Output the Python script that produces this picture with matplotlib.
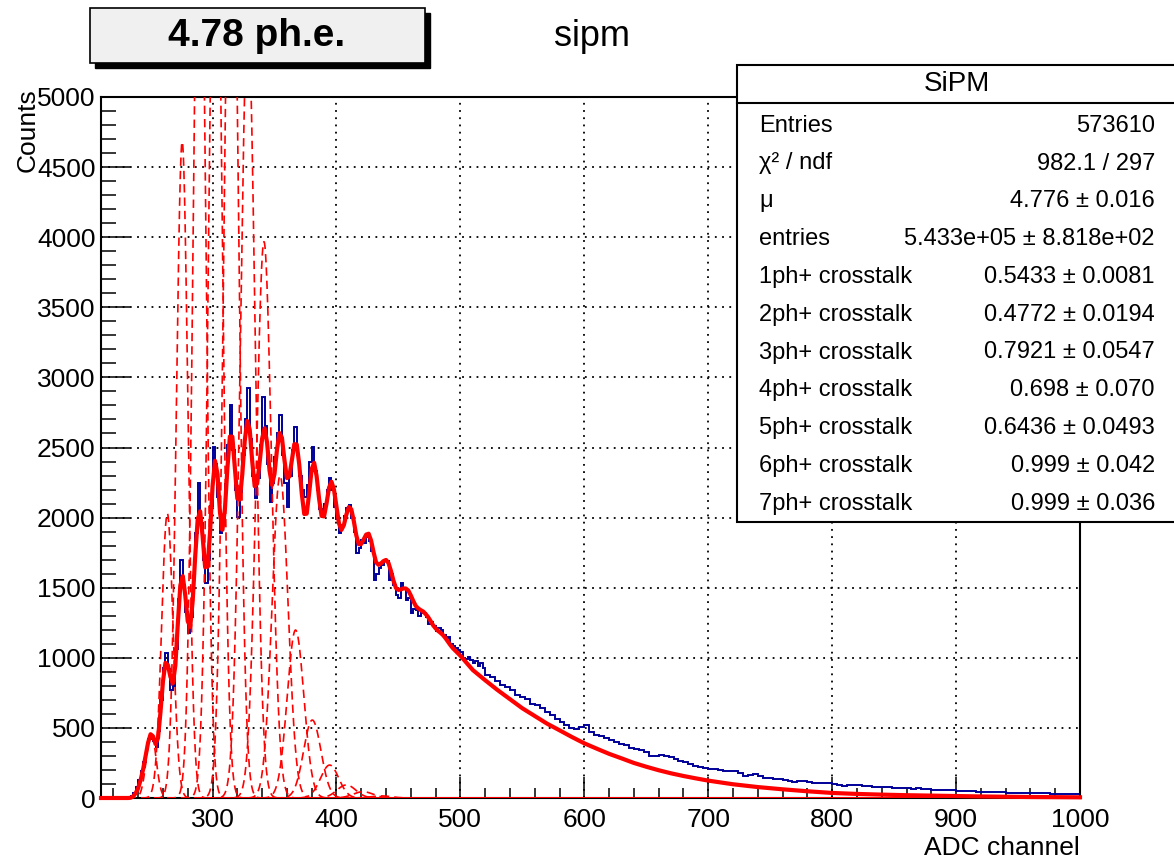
import numpy as np
import matplotlib
matplotlib.use("Agg")
import matplotlib.pyplot as plt
from matplotlib.patches import Rectangle
from matplotlib.lines import Line2D
from matplotlib.ticker import MultipleLocator

plt.rcParams['font.family'] = ['Liberation Sans', 'DejaVu Sans']

# histogram counts: 2-ADC bins from 210 to 520, then 4-ADC bins from 520 to 1000
hist_lo = [0, 0, 0, 0, 0, 0, 0, 0, 0, 0,
           2, 5, 15, 33, 75, 128, 190, 260, 350, 420,
           440, 410, 365, 480, 700, 930, 1032, 920, 770, 800,
           1060, 1420, 1698, 1520, 1330, 1180, 1290, 1580, 1890, 2245,
           1960, 1700, 1531, 1700, 2080, 2506, 2380, 2150, 1888, 1950,
           2240, 2520, 2803, 2480, 2200, 2006, 2180, 2450, 2700, 2922,
           2560, 2300, 2138, 2280, 2520, 2862, 2650, 2380, 2113, 2250,
           2430, 2600, 2732, 2450, 2250, 2078, 2300, 2480, 2648, 2450,
           2300, 2200, 2150, 2230, 2400, 2506, 2330, 2200, 2060, 2006,
           2100, 2197, 2280, 2200, 2078, 1990, 1890, 1950, 2010, 2065,
           2090, 2000, 1900, 1745, 1780, 1840, 1820, 1865, 1830, 1760,
           1555, 1600, 1640, 1662, 1700, 1690, 1555, 1600, 1520, 1450,
           1424, 1531, 1500, 1412, 1430, 1317, 1350, 1340, 1300, 1327,
           1320, 1290, 1240, 1255, 1230, 1190, 1210, 1198, 1165, 1140,
           1150, 1100, 1085, 1070, 1056, 1040, 1000, 990, 1005, 984,
           960, 975, 940, 963, 930]
hist_hi = [880, 860, 835, 805, 790, 770, 735, 720, 705, 670,
           660, 640, 610, 590, 565, 545, 520, 500, 495, 505,
           520, 470, 450, 440, 425, 415, 402, 385, 375, 360,
           350, 340, 330, 300, 298, 305, 300, 290, 275, 265,
           258, 245, 225, 222, 215, 210, 205, 200, 196, 195,
           190, 178, 158, 162, 168, 160, 142, 140, 138, 136,
           128, 120, 116, 118, 123, 114, 108, 105, 104, 105,
           100, 95, 88, 92, 90, 94, 88, 84, 82, 80,
           78, 76, 73, 72, 70, 68, 66, 69, 63, 61,
           60, 58, 57, 56, 55, 53, 52, 49, 48, 46,
           45, 43, 42, 40, 40, 39, 38, 37, 36, 35,
           35, 34, 33, 33, 32, 31, 30, 29, 28, 27]

# fit curve (solid red)
fit_lo = [0, 0, 2, 12, 35, 70, 130, 205, 300, 395,
          455, 440, 385, 427, 612, 832, 964, 948, 865, 818,
          945, 1244, 1516, 1583, 1445, 1261, 1221, 1407, 1721, 1985,
          2045, 1865, 1649, 1649, 1896, 2221, 2405, 2311, 2037, 1913,
          2061, 2352, 2578, 2577, 2357, 2136, 2128, 2307, 2548, 2689,
          2629, 2404, 2224, 2242, 2391, 2563, 2637, 2536, 2334, 2233,
          2312, 2484, 2603, 2570, 2413, 2282, 2293, 2411, 2524, 2521,
          2376, 2171, 2026, 2028, 2177, 2346, 2391, 2295, 2133, 2012,
          2009, 2101, 2213, 2256, 2199, 2077, 1960, 1912, 1947, 2022,
          2075, 2059, 1975, 1873, 1810, 1812, 1846, 1879, 1885, 1835,
          1751, 1681, 1663, 1674, 1690, 1698, 1676, 1619, 1550, 1498,
          1484, 1488, 1495, 1494, 1480, 1445, 1405, 1370, 1352, 1340,
          1330, 1312, 1290, 1262, 1232, 1210, 1192, 1178, 1162, 1140,
          1115, 1090, 1068, 1050, 1032, 1015]
fit_mid = [913, 840, 770, 705, 640, 585, 530, 483, 435, 390,
           352, 315, 283, 250, 223, 198, 176, 157, 140, 124]
fit_tail = [98, 78, 62, 48, 36, 29, 24, 20, 17, 14, 11, 9, 7, 6, 5]

# single photo-electron components (dashed red)
pe_mean = [250.5, 263.5, 275.5, 289.5, 302.4, 315.2, 328.5, 341.5,
           354.5, 367.0, 380.5, 394.5, 408.0, 421.5, 436.0]
pe_height = [470, 2030, 4681, 6970, 7040, 7250, 5570, 3968,
             2300, 1198, 556, 235, 93, 45, 15]
pe_sigma = [3.9, 4.6, 4.6, 4.9, 5.2, 5.5, 5.8, 6.1,
            6.4, 6.7, 7.0, 7.3, 7.6, 8.0, 8.3]

stat_names = ['Entries', 'χ² / ndf', 'μ', 'entries', '1ph+ crosstalk', '2ph+ crosstalk',
              '3ph+ crosstalk', '4ph+ crosstalk', '5ph+ crosstalk', '6ph+ crosstalk',
              '7ph+ crosstalk']
stat_values = ['573610', '982.1 / 297', '4.776 ± 0.016', '5.433e+05 ± 8.818e+02',
               '0.5433 ± 0.0081', '0.4772 ± 0.0194', '0.7921 ± 0.0547', '0.698 ± 0.070',
               '0.6436 ± 0.0493', '0.999 ± 0.042', '0.999 ± 0.036']

edges = np.concatenate([210 + 2 * np.arange(len(hist_lo)),
                        520 + 4 * np.arange(len(hist_hi) + 1)])
counts = np.array(hist_lo + hist_hi)
fit_x = np.concatenate([[210], 230 + 2 * np.arange(len(fit_lo)),
                        510 + 10 * np.arange(len(fit_mid)),
                        720 + 20 * np.arange(len(fit_tail))])
fit_y = np.array([0] + fit_lo + fit_mid + fit_tail)

W, H = 1174, 861
fig = plt.figure(figsize=(W / 100, H / 100), dpi=100)
ax = fig.add_axes([101 / W, 1 - 798 / H, (1080 - 101) / W, (798 - 97) / H])

xx = np.linspace(210, 1000, 4000)
for m, h, s in zip(pe_mean, pe_height, pe_sigma):
    ax.plot(xx, h * np.exp(-0.5 * ((xx - m) / s) ** 2), color='red', lw=1.2,
            linestyle=(0, (5, 3)), zorder=3)

ax.stairs(counts, edges, color='#000099', lw=1.4, zorder=2)
ax.plot(fit_x, fit_y, color='red', lw=3.0, zorder=4, clip_on=False)

ax.set_xlim(210, 1000)
ax.set_ylim(0, 5000)
ax.xaxis.set_major_locator(MultipleLocator(100))
ax.xaxis.set_minor_locator(MultipleLocator(20))
ax.yaxis.set_major_locator(MultipleLocator(500))
ax.yaxis.set_minor_locator(MultipleLocator(100))
ax.tick_params(axis='x', which='major', direction='in', length=15, width=1.1,
               labelsize=19, pad=7)
ax.tick_params(axis='x', which='minor', direction='in', length=7.5, width=1.1)
ax.tick_params(axis='y', which='major', direction='in', length=21, width=1.1,
               labelsize=19, pad=4)
ax.tick_params(axis='y', which='minor', direction='in', length=10.5, width=1.1)
ax.grid(True, which='major', color='black', linestyle=(0, (1, 3)), lw=1.3)
for sp in ax.spines.values():
    sp.set_linewidth(1.5)

fig.text(28 / W, 1 - 88 / H, 'Counts', rotation=90, ha='center', va='top', fontsize=19)
fig.text(1080 / W, 1 - 848 / H, 'ADC channel', ha='right', va='center', fontsize=19)

# title box with shadow
fig.add_artist(Rectangle((95 / W, 1 - 68 / H), 335 / W, 55 / H, transform=fig.transFigure,
                         facecolor='black', edgecolor='black'))
fig.add_artist(Rectangle((90 / W, 1 - 63 / H), 335 / W, 55 / H, transform=fig.transFigure,
                         facecolor='#f0f0f0', edgecolor='black', lw=1.2))
fig.text(257 / W, 1 - 36 / H, '4.78 ph.e.', ha='center', va='center', fontsize=28,
         fontweight='bold')
fig.text(592 / W, 1 - 37 / H, 'sipm', ha='center', va='center', fontsize=26)

# stats box
fig.add_artist(Rectangle((737 / W, 1 - 521.7 / H), 450 / W, 456.7 / H,
                         transform=fig.transFigure, facecolor='white',
                         edgecolor='black', lw=1.5, zorder=5))
fig.add_artist(Line2D([737 / W, 1], [1 - 102.7 / H] * 2, transform=fig.transFigure,
                      color='black', lw=1.5, zorder=6))
fig.text(956.7 / W, 1 - 84 / H, 'SiPM', ha='center', va='center', fontsize=20, zorder=7)
for i, (name, val) in enumerate(zip(stat_names, stat_values)):
    yb = 1 - (131.7 + 37.8 * i) / H
    fig.text(759.3 / W, yb, name, ha='left', va='baseline', fontsize=17, zorder=7)
    fig.text(1155 / W, yb, val, ha='right', va='baseline', fontsize=17, zorder=7)

fig.savefig('out.png', dpi=100)
